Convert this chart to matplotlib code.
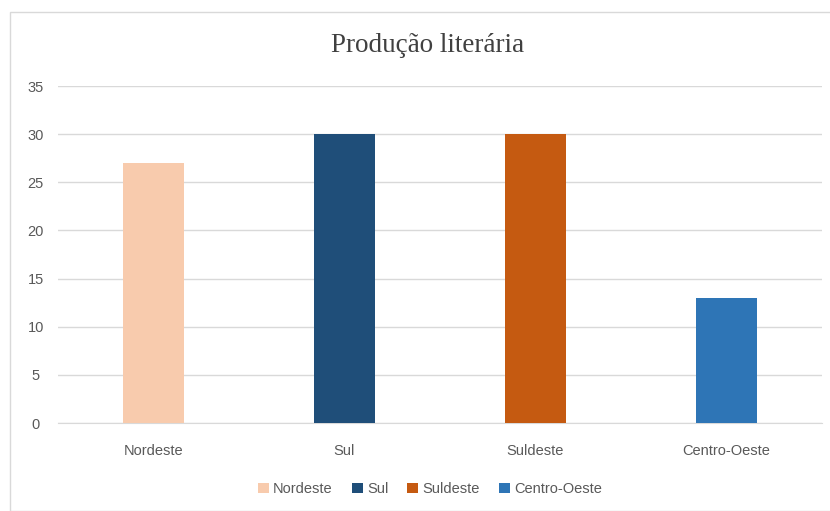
import matplotlib.pyplot as plt
from matplotlib.patches import Rectangle

# Données du graphique
regioes = ["Nordeste", "Sul", "Suldeste", "Centro-Oeste"]
valores = [27, 30, 30, 13]
cores = ["#F8CBAD", "#1F4E79", "#C55A11", "#2E75B6"]
yticks = [0, 5, 10, 15, 20, 25, 30, 35]

plt.rcParams['font.family'] = ['Liberation Sans', 'DejaVu Sans']

fig = plt.figure(figsize=(8.3, 5.11), dpi=100)
W, H = 830, 511

# cadre gris du graphique
fig.patches.append(Rectangle((10 / W, 0), 1, 1 - 12 / H, transform=fig.transFigure,
                             fill=False, edgecolor="#D9D9D9", linewidth=1))

ax = fig.add_axes([58 / W, 88 / H, 764 / W, 337 / H])
x = range(len(regioes))
barras = ax.bar(x, valores, width=0.315, color=cores, zorder=3)

ax.set_xlim(-0.5, len(regioes) - 0.5)
ax.set_ylim(0, 35)
ax.set_yticks(yticks)
ax.set_xticks(list(x))
ax.set_xticklabels(regioes)
ax.grid(axis="y", color="#D9D9D9", linewidth=1, zorder=0)
ax.tick_params(length=0, labelsize=10.5, colors="#595959")
ax.tick_params(axis="y", pad=16)
ax.tick_params(axis="x", pad=15)
for lbl in ax.get_yticklabels():
    lbl.set_horizontalalignment("center")
for s in ["top", "right", "left"]:
    ax.spines[s].set_visible(False)
ax.spines["bottom"].set_color("#D9D9D9")

fig.text(428 / W, 1 - 45 / H, "Produção literária", ha="center", va="center",
         fontsize=19.5, color="#404040", family="Liberation Serif")

leg = fig.legend(barras, regioes, loc="center", bbox_to_anchor=(430 / W, 1 - 489 / H),
                 ncol=4, frameon=False, fontsize=10.5, handlelength=0.75, handleheight=0.75,
                 handletextpad=0.3, columnspacing=1.3, labelcolor="#595959")

fig.savefig("out.png", dpi=100)
